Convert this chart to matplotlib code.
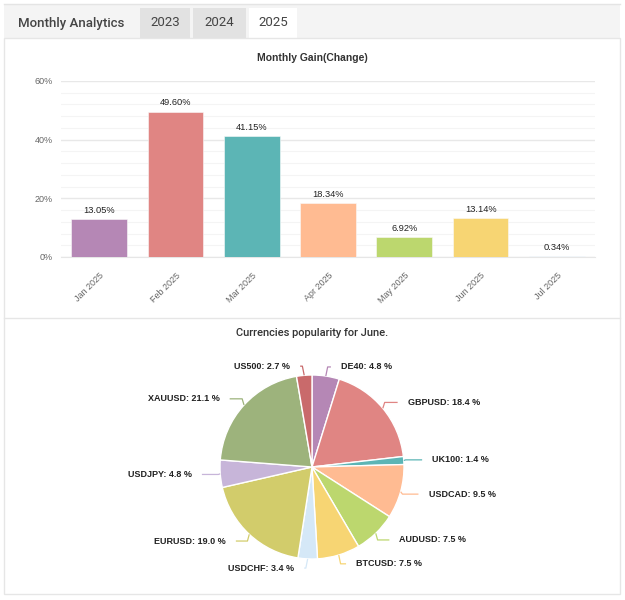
import numpy as np
import matplotlib
matplotlib.use("Agg")
import matplotlib.pyplot as plt
from matplotlib.patches import Rectangle
from matplotlib.ticker import MultipleLocator, FuncFormatter

# ---------------- data ----------------
tabs = ["Monthly Analytics", "2023", "2024", "2025"]
bar_title = "Monthly Gain(Change)"
months = ["Jan 2025", "Feb 2025", "Mar 2025", "Apr 2025", "May 2025", "Jun 2025", "Jul 2025"]
gains = [13.05, 49.60, 41.15, 18.34, 6.92, 13.14, 0.34]
bar_colors = ["#b587b5", "#e08583", "#5cb5b5", "#ffbb92", "#bcd76e", "#f7d573", "#d5e8f7"]

pie_title = "Currencies popularity for June."
symbols = ["DE40", "GBPUSD", "UK100", "USDCAD", "AUDUSD", "BTCUSD", "USDCHF",
           "EURUSD", "USDJPY", "XAUUSD", "US500"]
shares = [4.8, 18.4, 1.4, 9.5, 7.5, 7.5, 3.4, 19.0, 4.8, 21.1, 2.7]
pie_colors = ["#b587b5", "#e08583", "#5cb5b5", "#ffbb92", "#bcd76e", "#f7d573", "#d5e8f7",
              "#d2cc6b", "#c7b5d9", "#9db37c", "#c96a6b"]

W, H = 625, 600
fig = plt.figure(figsize=(W / 100, H / 100), dpi=100)
fig.patch.set_facecolor("white")

def fx(x):
    return x / W

def fy(y):
    return 1 - y / H

# ---------------- frame / tabs ----------------
bg = fig.add_axes([0, 0, 1, 1], zorder=-10)
bg.set_xlim(0, W)
bg.set_ylim(H, 0)
bg.axis("off")
bg.add_patch(Rectangle((4, 4), 616, 34, facecolor="#f4f4f4", edgecolor="none"))
bg.plot([4, 620], [4, 4], color="#e4e4e4", lw=1)
tab_x = [(5, 137), (140, 190), (193, 246), (249, 297)]
tab_fc = ["#f4f4f4", "#e2e2e2", "#e2e2e2", "#ffffff"]
for (x0, x1), fc, t in zip(tab_x, tab_fc, tabs):
    bg.add_patch(Rectangle((x0, 8), x1 - x0, 30, facecolor=fc, edgecolor="none"))
    bg.text((x0 + x1) / 2, 23, t, ha="center", va="center", fontsize=9.5,
            family="Roboto", color="#444444", fontweight="medium" if t == "Monthly Analytics" else "normal")
bg.add_patch(Rectangle((4, 38), 616, 556, facecolor="white", edgecolor="#e6e6e6", lw=1))
bg.plot([4, 620], [318, 318], color="#e6e6e6", lw=1)

# ---------------- bar chart ----------------
ax = fig.add_axes([fx(61), fy(257), fx(595) - fx(61), fy(81) - fy(257)])
x = np.arange(len(months))
bars = ax.bar(x, gains, width=0.73, color=bar_colors, edgecolor="#fafafa", linewidth=0.4, zorder=3)
ax.set_xlim(-0.5, len(months) - 0.5)
ax.set_ylim(0, 60)
ax.yaxis.set_major_locator(MultipleLocator(20))
ax.yaxis.set_minor_locator(MultipleLocator(4))
ax.yaxis.set_major_formatter(FuncFormatter(lambda v, p: f"{v:.0f}%"))
ax.grid(axis="y", which="major", color="#e8e8e8", lw=1.0, zorder=0)
ax.grid(axis="y", which="minor", color="#f4f4f4", lw=0.8, zorder=0)
for s in ["top", "right", "left"]:
    ax.spines[s].set_visible(False)
ax.spines["bottom"].set_color("#e6e6e6")
ax.spines["bottom"].set_zorder(1)
ax.tick_params(axis="y", which="both", length=0, labelsize=6.5, labelcolor="#666666", pad=6)
ax.tick_params(axis="x", length=0, labelsize=6.5, labelcolor="#666666", pad=10)
ax.set_xticks(x)
ax.set_xticklabels(months, rotation=45, ha="right", va="top", rotation_mode="anchor",
                   family="Liberation Sans")
for lab in ax.get_yticklabels():
    lab.set_family("Liberation Sans")
for xi, g in zip(x, gains):
    ax.annotate(f"{g:.2f}%", (xi, g), xytext=(0, 3), textcoords="offset points",
                ha="center", va="bottom", fontsize=6.7, color="#222222", family="Liberation Sans")
ax.set_facecolor("none")
fig.text(fx(312), fy(58), bar_title, ha="center", va="center", fontsize=7.5,
         fontweight="bold", color="#333333", family="Liberation Sans")

# ---------------- pie chart ----------------
R_px = 92
cx, cy = 312, 467
lim = 1.35
half = lim * R_px
pax = fig.add_axes([fx(cx - half), fy(cy + half), 2 * half / W, 2 * half / H])
wedges, _ = pax.pie(shares, colors=pie_colors, startangle=90, counterclock=False, radius=1,
                    wedgeprops=dict(edgecolor="white", linewidth=1.0))
pax.set_xlim(-lim, lim)
pax.set_ylim(-lim, lim)
pax.set_aspect("equal")
pax.axis("off")

total = sum(shares)
cum = np.cumsum([0] + shares[:-1])
for name, v, c0, col in zip(symbols, shares, cum, pie_colors):
    th = np.deg2rad((c0 + v / 2) / total * 360)
    sx, sy = np.sin(th), np.cos(th)
    side = 1 if sx >= 0 else -1
    ly = 1.1 * sy
    lx = 1.17 * sx + side * 0.14
    ex, ey = sx, sy
    pax.plot([ex, ex + side * 0.02, lx - side * 0.11], [ey, ly, ly], color=col, lw=0.9,
             clip_on=False, solid_capstyle="butt")
    pax.text(lx, ly, f"{name}: {v:.1f} %", ha="left" if side > 0 else "right", va="center",
             fontsize=6.5, fontweight="bold", color="#222222", family="Liberation Sans",
             clip_on=False)

fig.text(fx(312), fy(333), pie_title, ha="center", va="center", fontsize=8,
         color="#333333", family="Roboto", fontweight="medium")

fig.savefig("out.png", dpi=100, facecolor="white")
